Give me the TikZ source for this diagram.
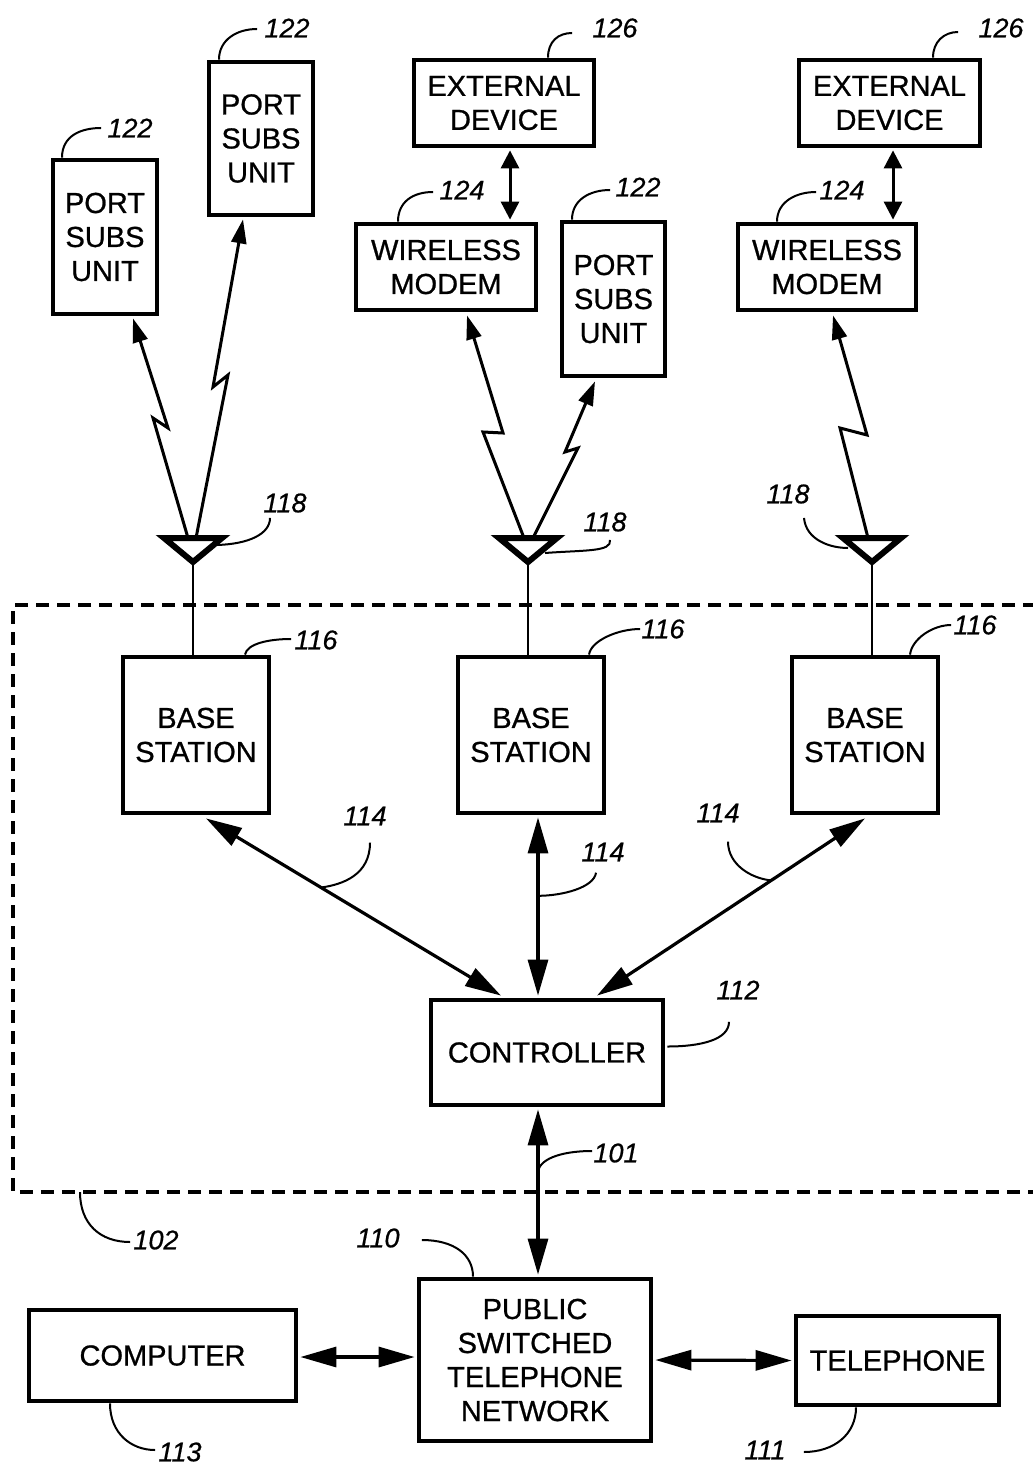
\documentclass[tikz,border=0pt]{standalone}
\usepackage{fontspec}
\setmainfont{Liberation Sans}[FakeBold=0.6]
\newfontfamily\boxfont{Liberation Sans}[FakeBold=0.8]
\newfontfamily\numfont{Liberation Sans Italic}[FakeBold=0.6]
\usetikzlibrary{arrows.meta,calc}
\begin{document}
\begin{tikzpicture}[x=0.5pt,y=-0.5pt,
  box/.style={draw, line width=2.4pt, inner sep=0pt, align=center, font=\boxfont\fontsize{14.5}{17}\selectfont},
  num/.style={inner sep=0pt, font=\numfont\fontsize{13.5}{16}\selectfont},
  leader/.style={line width=1pt},
  bigarrow/.style={line width=1.6pt, {Triangle[length=18pt,width=10pt]}-{Triangle[length=18pt,width=10pt]}},
  smallarrow/.style={line width=1.5pt, {Triangle[length=9pt,width=9pt]}-{Triangle[length=9pt,width=9pt]}},
  radio/.style={line width=1.5pt, line join=miter, -{Triangle[length=12pt,width=7.5pt]}},
  antenna/.style={line width=3pt, line join=miter, fill=white},
  stem/.style={line width=1pt},
  boundary/.style={line width=1.6pt, dash pattern=on 6.5pt off 4pt},
]
\useasboundingbox (0,0) rectangle (1032,1465);

% ---------- boxes ----------
\node[box, minimum width=52pt, minimum height=77pt] (psuA) at (105,237) {PORT\\SUBS\\UNIT};
\node[box, minimum width=52pt, minimum height=76.5pt] (psuB) at (261,138.5) {PORT\\SUBS\\UNIT};
\node[box, minimum width=90pt, minimum height=43pt] (extA) at (504,103) {EXTERNAL\\DEVICE};
\node[box, minimum width=90pt, minimum height=43pt] (wmA) at (446,267) {WIRELESS\\MODEM};
\node[box, minimum width=51.5pt, minimum height=77pt] (psuC) at (613.5,299) {PORT\\SUBS\\UNIT};
\node[box, minimum width=90.5pt, minimum height=43pt] (extB) at (889.5,103) {EXTERNAL\\DEVICE};
\node[box, minimum width=89pt, minimum height=43pt] (wmB) at (827,267) {WIRELESS\\MODEM};

\node[box, minimum width=73pt, minimum height=78pt] (bs1) at (196,735) {BASE\\STATION};
\node[box, minimum width=73pt, minimum height=78pt] (bs2) at (531,735) {BASE\\STATION};
\node[box, minimum width=73pt, minimum height=78pt] (bs3) at (865,735) {BASE\\STATION};

\node[box, minimum width=116pt, minimum height=52.5pt] (ctrl) at (547,1052.5) {CONTROLLER};
\node[box, minimum width=116pt, minimum height=81pt] (pstn) at (535,1360) {PUBLIC\\SWITCHED\\TELEPHONE\\NETWORK};
\node[box, minimum width=133.5pt, minimum height=45.5pt] (comp) at (162.5,1355.5) {COMPUTER};
\node[box, minimum width=101.5pt, minimum height=44.5pt] (tel) at (897.5,1360.5) {TELEPHONE};

% ---------- reference numerals ----------
\node[num] (n122a) at (130,128) {122};
\node[num] (n122b) at (287,28) {122};
\node[num] (n126a) at (615,28) {126};
\node[num] (n124a) at (462,190) {124};
\node[num] (n122c) at (638,187) {122};
\node[num] (n126b) at (1001,28) {126};
\node[num] (n124b) at (842,190) {124};
\node[num] (n118a) at (285,503) {118};
\node[num] (n118b) at (605,522) {118};
\node[num] (n118c) at (788,494) {118};
\node[num] (n116a) at (316,640) {116};
\node[num] (n116b) at (663,629) {116};
\node[num] (n116c) at (975,625) {116};
\node[num] (n114a) at (365,816) {114};
\node[num] (n114b) at (603,852) {114};
\node[num] (n114c) at (718,813) {114};
\node[num] (n112) at (738,990) {112};
\node[num] (n101) at (616,1153) {101};
\node[num] (n102) at (156,1240) {102};
\node[num] (n110) at (378,1238) {110};
\node[num] (n113) at (180,1452) {113};
\node[num] (n111) at (765,1450) {111};

% ---------- dashed boundary 102 ----------
\coordinate (dbl) at (13,1192);
\draw[boundary] (1036,605) -- (13,605) -- (dbl) -- (1036,1192);

% ---------- antennas ----------
\coordinate (ant1) at (193,538);
\coordinate (ant2) at (528,538);
\coordinate (ant3) at (872,538);
\foreach \a/\b in {ant1/bs1, ant2/bs2, ant3/bs3}{
  \draw[stem] ($(\a)+(0,27)$) -- (\a |- \b.north);
}

% ---------- radio links ----------
\draw[radio] ($(ant1)+(-5,0)$) -- (153,418) -- (168,428) -- ($(psuA.south)+(28,2)$);
\draw[radio] ($(ant1)+(3,0)$) -- (228,375) -- (213,387) -- ($(psuB.south)+(-18,2)$);
\draw[radio] ($(ant2)+(-4,0)$) -- (483,432) -- (503,433) -- ($(wmA.south)+(21,3)$);
\draw[radio] ($(ant2)+(5,0)$) -- (578,448) -- (565,452) -- ($(psuC.south)+(-18.5,3)$);
\draw[radio] ($(ant3)+(-4,0)$) -- (840,428) -- (867,435) -- ($(wmB.south)+(6,3)$);

\foreach \a in {ant1, ant2, ant3}{
  \draw[antenna] ($(\a)+(-29,0)$) -- ($(\a)+(29,0)$) -- ($(\a)+(0,24)$) -- cycle;
}

% ---------- wired links ----------
\draw[smallarrow] ($(extA.south)+(6,2)$) -- ($(wmA.north)+(64,-2)$);
\draw[smallarrow] ($(extB.south)+(3.5,2)$) -- ($(wmB.north)+(66,-2)$);

\draw[bigarrow] ($(bs1.south)+(10,3)$) -- coordinate[pos=0.39] (m1) ($(ctrl.north)+(-46,-2)$);
\draw[bigarrow] ($(bs2.south)+(7,2)$) -- coordinate[pos=0.44] (m2) ($(ctrl.north)+(-9,-2)$);
\draw[bigarrow] ($(bs3.south)+(0,3)$) -- coordinate[pos=0.35] (m3) ($(ctrl.north)+(50,-2)$);
\draw[bigarrow] ($(ctrl.south)+(-9,2)$) -- coordinate[pos=0.385] (m4) ($(pstn.north)+(3,-2)$);
\draw[bigarrow] ($(comp.east)+(2,1.5)$) -- ($(pstn.west)+(-2,-3)$);
\draw[bigarrow] ($(pstn.east)+(2,0)$) -- ($(tel.west)+(-2,0)$);

% ---------- leaders ----------
\draw[leader] ($(psuA.north)+(-43,0)$) .. controls +(0,-22) and +(-20,0) .. ($(n122a.west)+(-6,0)$);
\draw[leader] ($(psuB.north)+(-42,0)$) .. controls +(0,-20) and +(-20,0) .. ($(n122b.west)+(-7,1)$);
\draw[leader] ($(extA.north)+(44,0)$) .. controls +(0,-16) and +(-14,0) .. ($(n126a.west)+(-20,5)$);
\draw[leader] ($(wmA.north)+(-48,0)$) .. controls +(0,-20) and +(-20,0) .. ($(n124a.west)+(-6,2)$);
\draw[leader] ($(psuC.north)+(-41.5,0)$) .. controls +(0,-20) and +(-20,0) .. ($(n122c.west)+(-5,3)$);
\draw[leader] ($(extB.north)+(43.5,0)$) .. controls +(0,-16) and +(-14,0) .. ($(n126b.west)+(-20,4)$);
\draw[leader] ($(wmB.north)+(-50,0)$) .. controls +(0,-20) and +(-20,0) .. ($(n124b.west)+(-3,2)$);

\draw[leader] ($(ant1)+(24,7)$) .. controls +(32,-1) and +(0,16) .. ($(n118a.south)+(-15,5)$);
\draw[leader] ($(ant2)+(17,15)$) .. controls +(40,-3) and +(2,12) .. ($(n118b.south)+(5,8)$);
\draw[leader] ($(n118c.south)+(16,14)$) .. controls +(2,22) and +(-18,0) .. ($(ant3)+(-24,10)$);

\draw[leader] ($(bs1.north)+(49,0)$) .. controls +(2,-11) and +(-22,0) .. ($(n116a.west)+(-3,-1)$);
\draw[leader] ($(bs2.north)+(58,0)$) .. controls +(2,-14) and +(-22,0) .. ($(n116b.west)+(-1,0)$);
\draw[leader] ($(bs3.north)+(45,0)$) .. controls +(2,-16) and +(-18,0) .. ($(n116c.west)+(-2,0)$);

\draw[leader] ($(n114a.south)+(5,17)$) .. controls +(0,32) and +(22,-3) .. (m1);
\draw[leader] ($(n114b.south)+(-7,11)$) .. controls +(-2,15) and +(24,0) .. (m2);
\draw[leader] ($(n114c.south)+(10,19)$) .. controls +(0,23) and +(-20,-2) .. (m3);
\draw[leader] ($(n112.south)+(-9,22)$) .. controls +(0,18) and +(33,0) .. ($(ctrl.east)+(2,-6)$);
\draw[leader] (m4) .. controls +(0,-13) and +(-33,0) .. ($(n101.west)+(-1,-2)$);
\draw[leader] ($(dbl)+(67,0)$) .. controls +(0,32) and +(-30,0) .. ($(n102.west)+(-3,2)$);
\draw[leader] ($(n110.east)+(22,2)$) .. controls +(32,0) and +(0,-22) .. ($(pstn.north)+(-62,0)$);
\draw[leader] ($(comp.south)+(-52.5,0)$) .. controls +(0,30) and +(-24,0) .. ($(n113.west)+(-3,-2)$);
\draw[leader] ($(n111.east)+(18,2)$) .. controls +(30,0) and +(0,27) .. ($(tel.south)+(-41.5,0)$);
\end{tikzpicture}
\end{document}
